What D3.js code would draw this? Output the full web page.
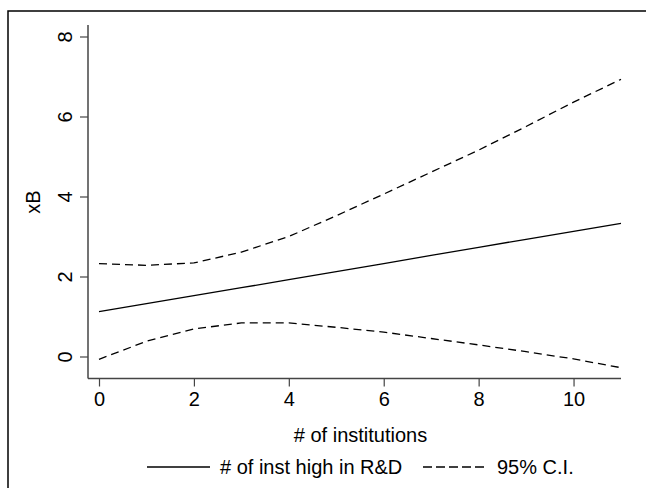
<!DOCTYPE html>
<html>
<head>
<meta charset="utf-8">
<script src="https://cdn.jsdelivr.net/npm/d3@7"></script>
<style>
  body { margin: 0; background: #fff; }
  text { font-family: "Liberation Sans", Arial, sans-serif; fill: #000; }
</style>
</head>
<body>
<div id="chart"></div>
<script>
// values
const institutions = [0, 1, 2, 3, 4, 5, 6, 7, 8, 9, 10, 11];
const xbHighRD = [1.12, 1.32, 1.52, 1.72, 1.92, 2.12, 2.32, 2.53, 2.73, 2.93, 3.13, 3.33];
const ciUpper = [2.32, 2.28, 2.34, 2.61, 3.0, 3.52, 4.06, 4.61, 5.16, 5.75, 6.36, 6.93];
const ciLower = [-0.07, 0.38, 0.69, 0.84, 0.84, 0.73, 0.61, 0.45, 0.29, 0.12, -0.06, -0.28];
const xTicks = [0, 2, 4, 6, 8, 10];
const yTicks = [0, 2, 4, 6, 8];

const width = 646, height = 488;
const fontSize = 20;

const svg = d3.select("#chart").append("svg")
    .attr("width", width)
    .attr("height", height);

// outer frame (right and bottom edges fall off the picture)
svg.append("rect")
    .attr("x", 8).attr("y", 11)
    .attr("width", 660).attr("height", 500)
    .attr("fill", "none")
    .attr("stroke", "#000")
    .attr("stroke-width", 1.5);

var xScale = d3.scaleLinear().domain([0, 11]).range([99, 621]);
var yScale = d3.scaleLinear().domain([0, 8]).range([356.5, 36.5]);

const plotLeft = 88, plotBottom = 378.5, plotTop = 25;

// Y axis
var yAxis = d3.axisLeft(yScale).tickValues(yTicks).tickSize(8).tickSizeOuter(0).tickPadding(4);
var gy = svg.append("g")
    .attr("transform", `translate(${plotLeft},0)`)
    .call(yAxis);
gy.select(".domain").remove();
gy.append("line")
    .attr("x1", 0).attr("x2", 0)
    .attr("y1", plotTop).attr("y2", plotBottom)
    .attr("stroke", "#444").attr("stroke-width", 1.5);
gy.selectAll(".tick line").attr("stroke", "#444").attr("stroke-width", 1.2);
gy.selectAll(".tick text")
    .attr("x", null).attr("dy", null)
    .attr("transform", "translate(-23,0) rotate(-90)")
    .attr("text-anchor", "middle")
    .attr("dominant-baseline", "central")
    .style("font-size", fontSize + "px")
    .style("font-family", "Liberation Sans, Arial, sans-serif");

// X axis
var xAxis = d3.axisBottom(xScale).tickValues(xTicks).tickSize(8).tickSizeOuter(0).tickPadding(5);
var gx = svg.append("g")
    .attr("transform", `translate(0,${plotBottom})`)
    .call(xAxis);
gx.select(".domain").remove();
gx.append("line")
    .attr("x1", plotLeft).attr("x2", xScale(11))
    .attr("y1", 0).attr("y2", 0)
    .attr("stroke", "#444").attr("stroke-width", 1.5);
gx.selectAll(".tick line").attr("stroke", "#444").attr("stroke-width", 1.2);
gx.selectAll(".tick text")
    .style("font-size", fontSize + "px")
    .style("font-family", "Liberation Sans, Arial, sans-serif");

// axis titles
svg.append("text")
    .attr("transform", "translate(33,202) rotate(-90)")
    .attr("text-anchor", "middle")
    .attr("dominant-baseline", "central")
    .style("font-size", fontSize + "px")
    .text("xB");

svg.append("text")
    .attr("x", (plotLeft + xScale(11)) / 2 + 6)
    .attr("y", 435)
    .attr("text-anchor", "middle")
    .attr("dominant-baseline", "central")
    .style("font-size", fontSize + "px")
    .text("# of institutions");

// lines
var line = d3.line()
    .x((d, i) => xScale(institutions[i]))
    .y(d => yScale(d));

svg.append("path")
    .datum(xbHighRD)
    .attr("d", line)
    .attr("fill", "none")
    .attr("stroke", "#000")
    .attr("stroke-width", 1.3);

[ciUpper, ciLower].forEach(s => {
    svg.append("path")
        .datum(s)
        .attr("d", line)
        .attr("fill", "none")
        .attr("stroke", "#000")
        .attr("stroke-width", 1.3)
        .attr("stroke-dasharray", "8,5");
});

// legend
const legY = 467;
var leg = svg.append("g");
leg.append("line")
    .attr("x1", 147).attr("x2", 210)
    .attr("y1", legY).attr("y2", legY)
    .attr("stroke", "#000").attr("stroke-width", 1.3);
leg.append("text")
    .attr("x", 220).attr("y", legY)
    .attr("dominant-baseline", "central")
    .style("font-size", fontSize + "px")
    .text("# of inst high in R&D");
leg.append("line")
    .attr("x1", 423).attr("x2", 487)
    .attr("y1", legY).attr("y2", legY)
    .attr("stroke", "#000").attr("stroke-width", 1.3)
    .attr("stroke-dasharray", "9,4");
leg.append("text")
    .attr("x", 497).attr("y", legY)
    .attr("dominant-baseline", "central")
    .style("font-size", fontSize + "px")
    .text("95% C.I.");
</script>
</body>
</html>
